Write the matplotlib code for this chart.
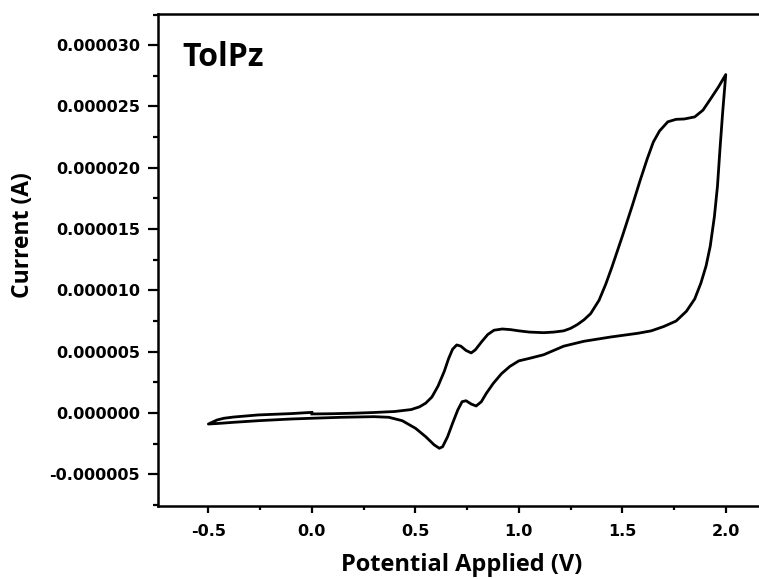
import numpy as np
import matplotlib
matplotlib.use('Agg')
import matplotlib.pyplot as plt
from matplotlib.ticker import MultipleLocator, FormatStrFormatter

# anodic sweep 0 V -> 2.0 V (potential in V, current in uA)
fwd_v = [0.00, 0.10, 0.20, 0.30, 0.40, 0.48, 0.52, 0.55, 0.58, 0.61, 0.64, 0.66,
         0.68, 0.70, 0.72, 0.745, 0.77, 0.79, 0.82, 0.85, 0.88, 0.92, 0.96, 1.00,
         1.05, 1.12, 1.17, 1.217, 1.25, 1.282, 1.315, 1.347, 1.388, 1.42, 1.45,
         1.50, 1.55, 1.585, 1.62, 1.65, 1.68, 1.72, 1.76, 1.80, 1.85, 1.89, 1.93,
         1.965, 2.00]
fwd_i = [-0.08, -0.06, -0.02, 0.04, 0.12, 0.28, 0.5, 0.8, 1.3, 2.2, 3.4, 4.4,
         5.2, 5.55, 5.45, 5.1, 4.9, 5.15, 5.8, 6.4, 6.75, 6.85, 6.8, 6.7,
         6.6, 6.55, 6.6, 6.7, 6.9, 7.2, 7.6, 8.1, 9.2, 10.5, 11.9,
         14.4, 17.0, 18.9, 20.7, 22.1, 23.0, 23.75, 23.95, 23.98, 24.15, 24.7, 25.7,
         26.6, 27.6]

# cathodic sweep 2.0 V -> -0.5 V
rev_v = [2.00, 1.985, 1.972, 1.960, 1.945, 1.925, 1.905, 1.88, 1.85, 1.81,
         1.76, 1.70, 1.64, 1.575, 1.445, 1.315, 1.217, 1.12, 1.05, 1.00,
         0.957, 0.916, 0.876, 0.843, 0.819, 0.794, 0.77, 0.745, 0.726, 0.705,
         0.68, 0.656, 0.632, 0.616, 0.591, 0.55, 0.501, 0.437, 0.372, 0.30,
         0.144, 0.0, -0.10, -0.26, -0.378, -0.45, -0.5]
rev_i = [27.6, 24.5, 21.5, 18.5, 16.0, 13.6, 12.0, 10.6, 9.3, 8.3,
         7.5, 7.05, 6.7, 6.5, 6.2, 5.85, 5.45, 4.75, 4.45, 4.25,
         3.8, 3.2, 2.4, 1.6, 0.92, 0.57, 0.73, 1.0, 0.92, 0.24,
         -0.84, -1.93, -2.75, -2.88, -2.6, -1.93, -1.25, -0.63, -0.35, -0.3,
         -0.35, -0.43, -0.49, -0.63, -0.76, -0.85, -0.9]

# return segment -0.5 V -> 0 V
ret_v = [-0.5, -0.458, -0.425, -0.378, -0.26, -0.10, 0.0]
ret_i = [-0.9, -0.57, -0.43, -0.33, -0.16, -0.05, 0.05]

v = np.array(fwd_v + rev_v + ret_v)
i = np.array(fwd_i + rev_i + ret_i) * 1e-6

plt.rcParams['axes.unicode_minus'] = False
plt.rcParams['font.family'] = 'DejaVu Sans'

fig = plt.figure(figsize=(7.59, 5.79), dpi=100)
ax = fig.add_axes([0.208, 0.126, 0.80, 0.850])

ax.plot(v, i, color='black', lw=2.0, solid_joinstyle='round')

ax.set_xlim(-0.744, 2.19)
ax.set_ylim(-7.59e-6, 3.255e-5)

ax.xaxis.set_major_locator(MultipleLocator(0.5))
ax.xaxis.set_minor_locator(MultipleLocator(0.25))
ax.yaxis.set_major_locator(MultipleLocator(5e-6))
ax.yaxis.set_minor_locator(MultipleLocator(2.5e-6))
ax.xaxis.set_major_formatter(FormatStrFormatter('%.1f'))
ax.yaxis.set_major_formatter(FormatStrFormatter('%.6f'))

ax.tick_params(axis='both', which='both', direction='out', width=1.6, labelsize=11.5)
ax.tick_params(axis='y', which='major', length=7, pad=6)
ax.tick_params(axis='y', which='minor', length=3.5)
ax.tick_params(axis='x', which='major', length=5, pad=8)
ax.tick_params(axis='x', which='minor', length=3)
for lab in ax.get_xticklabels() + ax.get_yticklabels():
    lab.set_fontweight('bold')

for side in ['left', 'bottom', 'top']:
    ax.spines[side].set_linewidth(1.8)
ax.spines['right'].set_visible(False)

ax.set_xlabel('Potential Applied (V)', fontsize=17, fontweight='bold',
              family='Open Sans', labelpad=10)
ax.set_ylabel('Current (A)', fontsize=16.5, fontweight='bold',
              family='Open Sans')
ax.yaxis.set_label_coords(-0.203, 0.55)
ax.text(0.04, 0.945, 'TolPz', transform=ax.transAxes, fontsize=23,
        fontweight='bold', family='Open Sans', va='top', ha='left')

fig.savefig('out.png', dpi=100)
